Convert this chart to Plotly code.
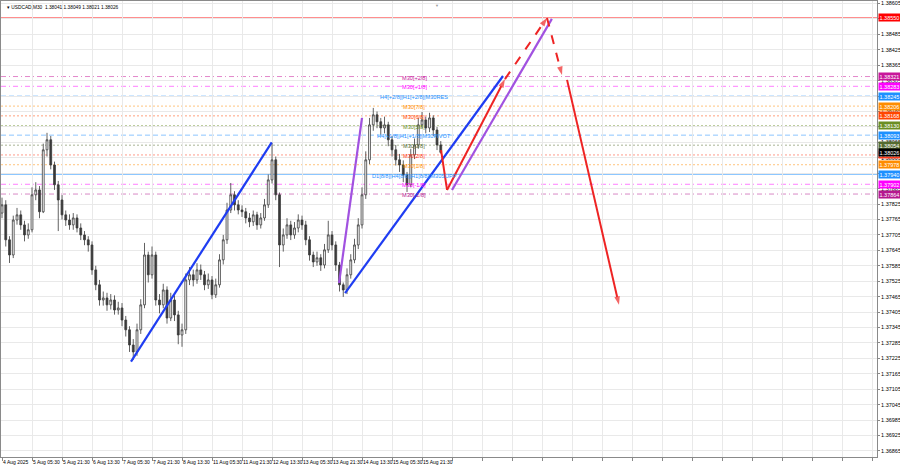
import plotly.graph_objects as go

# ---------------- data ----------------
bar_step = 4          # each drawn candle spans 4 M30 bars
first_open = 1.37790
closes = [1.37822, 1.37686, 1.37627, 1.37763, 1.37783, 1.37744, 1.37705, 1.37725, 1.37861, 1.37880,
          1.37795, 1.38036, 1.38075, 1.37977, 1.37900, 1.37841, 1.37783, 1.37763, 1.37744, 1.37771,
          1.37732, 1.37705, 1.37686, 1.37666, 1.37569, 1.37511, 1.37452, 1.37460, 1.37433, 1.37452,
          1.37413, 1.37421, 1.37374, 1.37336, 1.37277, 1.37250, 1.37336, 1.37433, 1.37627, 1.37550,
          1.37627, 1.37452, 1.37433, 1.37491, 1.37382, 1.37452, 1.37394, 1.37316, 1.37336, 1.37530,
          1.37550, 1.37530, 1.37569, 1.37550, 1.37511, 1.37530, 1.37472, 1.37511, 1.37608, 1.37686,
          1.37802, 1.37861, 1.37822, 1.37802, 1.37795, 1.37771, 1.37756, 1.37783, 1.37744, 1.37771,
          1.37822, 1.37919, 1.37997, 1.37861, 1.37666, 1.37705, 1.37744, 1.37705, 1.37732, 1.37763,
          1.37744, 1.37686, 1.37627, 1.37600, 1.37616, 1.37588, 1.37647, 1.37705, 1.37666, 1.37588,
          1.37511, 1.37491, 1.37550, 1.37608, 1.37666, 1.37744, 1.37861, 1.37997, 1.38133, 1.38172,
          1.38145, 1.38121, 1.38133, 1.38075, 1.38036, 1.37997, 1.37977, 1.37938, 1.37900, 1.38016,
          1.38055, 1.38133, 1.38152, 1.38121, 1.38160, 1.38113, 1.38055, 1.38026]
highs = [1.37850, 1.37840, 1.37700, 1.37780, 1.37810, 1.37800, 1.37760, 1.37750, 1.37890, 1.37910,
         1.37895, 1.38060, 1.38102, 1.38090, 1.37990, 1.37915, 1.37860, 1.37800, 1.37785, 1.37790,
         1.37785, 1.37750, 1.37720, 1.37700, 1.37680, 1.37585, 1.37530, 1.37485, 1.37480, 1.37475,
         1.37470, 1.37445, 1.37440, 1.37390, 1.37350, 1.37300, 1.37360, 1.37455, 1.37674, 1.37640,
         1.37660, 1.37640, 1.37475, 1.37515, 1.37505, 1.37480, 1.37470, 1.37410, 1.37360, 1.37555,
         1.37580, 1.37570, 1.37595, 1.37590, 1.37565, 1.37555, 1.37545, 1.37535, 1.37630, 1.37705,
         1.37830, 1.37907, 1.37875, 1.37840, 1.37820, 1.37810, 1.37790, 1.37800, 1.37795, 1.37790,
         1.37845, 1.37940, 1.38063, 1.38010, 1.37870, 1.37730, 1.37770, 1.37760, 1.37755, 1.37785,
         1.37780, 1.37760, 1.37700, 1.37640, 1.37640, 1.37630, 1.37670, 1.37760, 1.37720, 1.37680,
         1.37600, 1.37520, 1.37575, 1.37630, 1.37690, 1.37770, 1.37890, 1.38030, 1.38160, 1.38199,
         1.38185, 1.38160, 1.38165, 1.38145, 1.38090, 1.38055, 1.38020, 1.37995, 1.37950, 1.38040,
         1.38080, 1.38160, 1.38183, 1.38165, 1.38180, 1.38170, 1.38125, 1.38070]
lows = [1.37770, 1.37660, 1.37596, 1.37615, 1.37745, 1.37725, 1.37680, 1.37690, 1.37715, 1.37840,
        1.37770, 1.37790, 1.38010, 1.37960, 1.37880, 1.37720, 1.37765, 1.37740, 1.37725, 1.37725,
        1.37715, 1.37685, 1.37665, 1.37640, 1.37550, 1.37490, 1.37430, 1.37430, 1.37410, 1.37415,
        1.37395, 1.37395, 1.37350, 1.37310, 1.37250, 1.37219, 1.37235, 1.37320, 1.37420, 1.37520,
        1.37535, 1.37430, 1.37400, 1.37420, 1.37360, 1.37370, 1.37370, 1.37280, 1.37270, 1.37320,
        1.37510, 1.37505, 1.37515, 1.37530, 1.37490, 1.37495, 1.37455, 1.37460, 1.37500, 1.37590,
        1.37670, 1.37790, 1.37800, 1.37785, 1.37775, 1.37750, 1.37735, 1.37740, 1.37725, 1.37730,
        1.37760, 1.37810, 1.37905, 1.37840, 1.37580, 1.37640, 1.37690, 1.37685, 1.37690, 1.37715,
        1.37725, 1.37665, 1.37605, 1.37580, 1.37585, 1.37565, 1.37575, 1.37635, 1.37645, 1.37565,
        1.37485, 1.37464, 1.37475, 1.37535, 1.37595, 1.37650, 1.37730, 1.37845, 1.37980, 1.38110,
        1.38120, 1.38095, 1.38100, 1.38050, 1.38010, 1.37975, 1.37950, 1.37910, 1.37872, 1.37890,
        1.38000, 1.38040, 1.38120, 1.38100, 1.38105, 1.38090, 1.38035, 1.38021]

x_labels = ["4 Aug 2025", "5 Aug 05:30", "5 Aug 21:30", "6 Aug 13:30", "7 Aug 05:30",
            "7 Aug 21:30", "8 Aug 13:30", "11 Aug 05:30", "11 Aug 21:30", "12 Aug 13:30",
            "13 Aug 05:30", "13 Aug 21:30", "14 Aug 13:30", "15 Aug 05:30", "15 Aug 21:30"]
bars_per_label = 32
n_grid_cols = 30

y_tick_start = 1.36865
y_tick_step = 0.0006
n_y_ticks = 30

level_prices = [1.38550, 1.38321, 1.38283, 1.38245, 1.38206, 1.38168, 1.38130,
                1.38093, 1.38054, 1.38016, 1.37978, 1.37940, 1.37902, 1.37864]
level_names = ["", "M30[+2/8]", "M30[+1/8]", "H4[+2/8]|H1[+2/8]|M30RES", "M30[7/8]",
               "M30[6/8]", "M30[5/8]", "H4[+1/8]|H1[+1/8]|M30PIVOT", "M30[3/8]", "M30[2/8]",
               "M30[1/8]", "D1[8/8]|H4[8/8]|H1[8/8]|M30SUPP", "M30[-1/8]", "M30[-2/8]"]
level_colors = ["#ff0000", "#c8179a", "#ff00ff", "#1e90ff", "#ff8c00", "#ff4500", "#6b8e23",
                "#1e90ff", "#556b2f", "#ff3a1a", "#ff8c00", "#1e90ff", "#ff00ff", "#b5168f"]
level_dash = ["solid", "5px,3px,1px,3px", "5px,3px,1px,3px", "5px,3px", "2px,2px", "2px,2px",
              "2px,2px", "5px,3px", "2px,2px", "2px,2px", "2px,2px", "solid",
              "5px,3px,1px,3px", "5px,3px,1px,3px"]
last_price = 1.38026
title_text = "\u25be USDCAD,M30  1.38041 1.38049 1.38021 1.38026"

# drawn analysis lines (bar index, price)
blue_lines = [([137.6, 287.7], [1.37212, 1.38065]),
              ([365.9, 534.4], [1.37479, 1.38323])]
purple_lines = [([359.5, 384.0], [1.37518, 1.38160]),
                ([480.0, 586.5], [1.37880, 1.38545])]
red_plain = [([468.3, 474.7], [1.38035, 1.37880])]
red_arrows = [([474.7, 536.5], [1.37880, 1.38311], "solid"),
              ([536.5, 581.3], [1.38311, 1.38549], "dash"),
              ([581.3, 597.3], [1.38549, 1.38327], "dash"),
              ([602.7, 658.1], [1.38308, 1.37433], "solid")]

# ---------------- figure ----------------
FONT = "Liberation Sans, Arial, sans-serif"
bars = [i * bar_step for i in range(len(closes))]
opens = [first_open] + closes[:-1]

fig = go.Figure()
fig.add_trace(go.Candlestick(
    x=bars, open=opens, high=highs, low=lows, close=closes,
    increasing=dict(line=dict(color="#3a3a3a", width=0.8), fillcolor="#ffffff"),
    decreasing=dict(line=dict(color="#3a3a3a", width=0.8), fillcolor="#3a3a3a"),
    whiskerwidth=0, showlegend=False, hoverinfo="skip"))

for xs, ys in blue_lines:
    fig.add_trace(go.Scatter(x=xs, y=ys, mode="lines", line=dict(color="#1f3df2", width=2.2),
                             showlegend=False, hoverinfo="skip"))
for xs, ys in purple_lines:
    fig.add_trace(go.Scatter(x=xs, y=ys, mode="lines", line=dict(color="#a152e0", width=2.2),
                             showlegend=False, hoverinfo="skip"))
for xs, ys in red_plain:
    fig.add_trace(go.Scatter(x=xs, y=ys, mode="lines", line=dict(color="#ee2424", width=2),
                             showlegend=False, hoverinfo="skip"))
for xs, ys, dsh in red_arrows:
    fig.add_trace(go.Scatter(x=xs, y=ys, mode="lines+markers",
                             line=dict(color="#ee2424", width=2, dash=dsh),
                             marker=dict(symbol=["circle", "arrow"], size=[0, 9], angleref="previous",
                                         color="#ee2424", line=dict(width=0)),
                             showlegend=False, hoverinfo="skip"))

shapes = []
annotations = []
for price, name, col, dsh in zip(level_prices, level_names, level_colors, level_dash):
    shapes.append(dict(type="line", xref="paper", x0=0, x1=1, yref="y", y0=price, y1=price,
                       line=dict(color=col, width=1, dash=dsh), opacity=0.5, layer="below"))
    annotations.append(dict(xref="paper", x=1, xanchor="left", xshift=1, yref="y", y=price,
                            yanchor="middle", text=f"{price:.5f}", showarrow=False,
                            font=dict(family=FONT, size=5.5, color="#ffffff"),
                            bgcolor=col, borderpad=0.5))
    if name:
        annotations.append(dict(x=439.5, y=price, xref="x", yref="y", text=name, showarrow=False,
                                xanchor="center", yanchor="middle", yshift=-1,
                                font=dict(family=FONT, size=5.6, color=col)))

annotations.append(dict(xref="paper", x=1, xanchor="left", xshift=1, yref="y", y=last_price,
                        yanchor="middle", text=f"{last_price:.5f}", showarrow=False,
                        font=dict(family=FONT, size=5.5, color="#ffffff"),
                        bgcolor="#000000", borderpad=0.5))
annotations.append(dict(xref="paper", yref="paper", x=0.004, y=0.995, xanchor="left", yanchor="top",
                        text=title_text, showarrow=False,
                        font=dict(family=FONT, size=4.8, color="#000000")))
annotations.append(dict(xref="x", yref="paper", x=464, y=1.0, xanchor="center", yanchor="top",
                        text="\u25bc", showarrow=False, font=dict(family=FONT, size=4, color="#9a9a9a")))

tickvals_x = [k * bars_per_label for k in range(n_grid_cols)]
ticktext_x = x_labels + [""] * (n_grid_cols - len(x_labels))
tickvals_y = [round(y_tick_start + k * y_tick_step, 5) for k in range(n_y_ticks)]

fig.update_layout(
    width=900, height=468,
    margin=dict(l=1, r=23, t=1, b=11, autoexpand=False),
    paper_bgcolor="#ffffff", plot_bgcolor="#ffffff",
    shapes=shapes, annotations=annotations,
    showlegend=False,
    xaxis=dict(range=[-1.07, 933.3], rangeslider=dict(visible=False), automargin=False,
               tickmode="array", tickvals=tickvals_x, ticktext=ticktext_x, tickangle=0,
               ticklabelposition="outside right", ticks="outside", ticklen=3, tickcolor="#888888",
               tickfont=dict(family=FONT, size=5, color="#000000"),
               showgrid=True, gridcolor="#e9e9e9", gridwidth=1,
               showline=True, linecolor="#8a8a8a", linewidth=1, mirror=True, zeroline=False),
    yaxis=dict(range=[1.368414, 1.386147], side="right", automargin=False,
               tickmode="array", tickvals=tickvals_y, ticktext=[f"{v:.5f}" for v in tickvals_y],
               ticks="outside", ticklen=2, tickcolor="#888888",
               tickfont=dict(family=FONT, size=5.5, color="#000000"),
               showgrid=True, gridcolor="#e9e9e9", gridwidth=1,
               showline=True, linecolor="#8a8a8a", linewidth=1, mirror=True, zeroline=False),
)

fig.write_html("out.html", config={"displayModeBar": False},
               post_script="document.body.style.margin='0';document.body.style.overflow='hidden';")
